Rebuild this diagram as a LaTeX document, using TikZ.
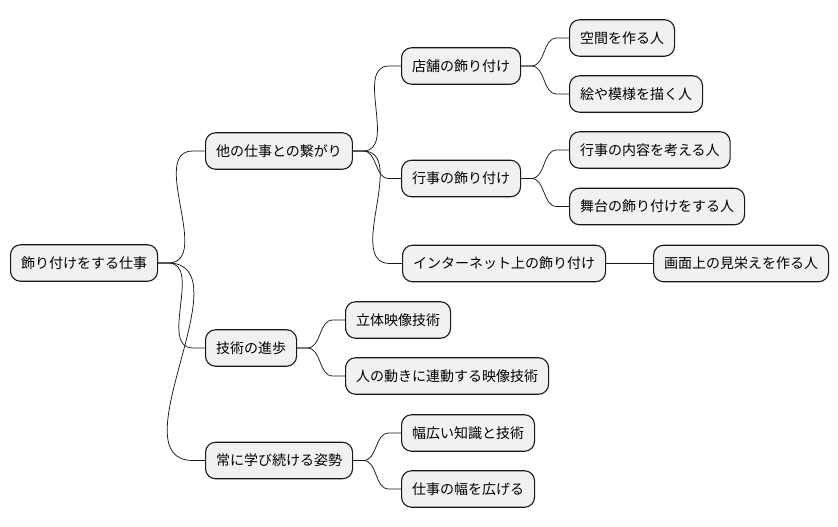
\documentclass[tikz,border=0pt]{standalone}
\usepackage{fontspec}
\setmainfont{Noto Sans CJK JP}
\usepackage{tikz}
\usetikzlibrary{positioning,calc}
\definecolor{mmline}{HTML}{181818}
\definecolor{mmfill}{HTML}{F1F1F1}
\tikzset{
 mm box/.style={draw=mmline,line width=1.1pt,rounded corners=10pt,fill=mmfill,
   anchor=west,inner xsep=10.5pt,minimum height=36.5pt,
   font=\fontsize{14}{16}\selectfont},
 mm link/.style={draw=mmline,line width=.75pt}
}
\newcommand{\mmbranch}[2]{%
 \draw[mm link] (#1.east)--++(10pt,0) to[out=0,in=180] ([xshift=-12pt]#2.west)--(#2.west);}

\begin{document}
\begin{tikzpicture}[x=1pt,y=-1pt]
\useasboundingbox (0,0) rectangle (838,527);
\node[mm box] (root) at (10,263) {飾り付けをする仕事};
\node[mm box] (link) at (205,151) {他の仕事との繋がり};
\node[mm box] (tech) at (205,348) {技術の進歩};
\node[mm box] (learn) at (205,460.5) {常に学び続ける姿勢};
\node[mm box] (shop) at (401,66) {店舗の飾り付け};
\node[mm box] (event) at (401,178.5) {行事の飾り付け};
\node[mm box] (net) at (402,263.5) {インターネット上の飾り付け};
\node[mm box] (space) at (569,38) {空間を作る人};
\node[mm box] (paint) at (569,94) {絵や模様を描く人};
\node[mm box] (plan) at (569,150) {行事の内容を考える人};
\node[mm box] (stage) at (569,206.5) {舞台の飾り付けをする人};
\node[mm box] (screen) at (653,263.5) {画面上の見栄えを作る人};
\node[mm box] (holo) at (345,320) {立体映像技術};
\node[mm box] (motion) at (345,376) {人の動きに連動する映像技術};
\node[mm box] (broad) at (401,433) {幅広い知識と技術};
\node[mm box] (widen) at (401,489) {仕事の幅を広げる};
% branches
\mmbranch{root}{link}
\mmbranch{root}{tech}
\mmbranch{root}{learn}
\mmbranch{link}{shop}
\mmbranch{link}{event}
\mmbranch{link}{net}
\mmbranch{shop}{space}
\mmbranch{shop}{paint}
\mmbranch{event}{plan}
\mmbranch{event}{stage}
\mmbranch{net}{screen}
\mmbranch{tech}{holo}
\mmbranch{tech}{motion}
\mmbranch{learn}{broad}
\mmbranch{learn}{widen}
\end{tikzpicture}
\end{document}
